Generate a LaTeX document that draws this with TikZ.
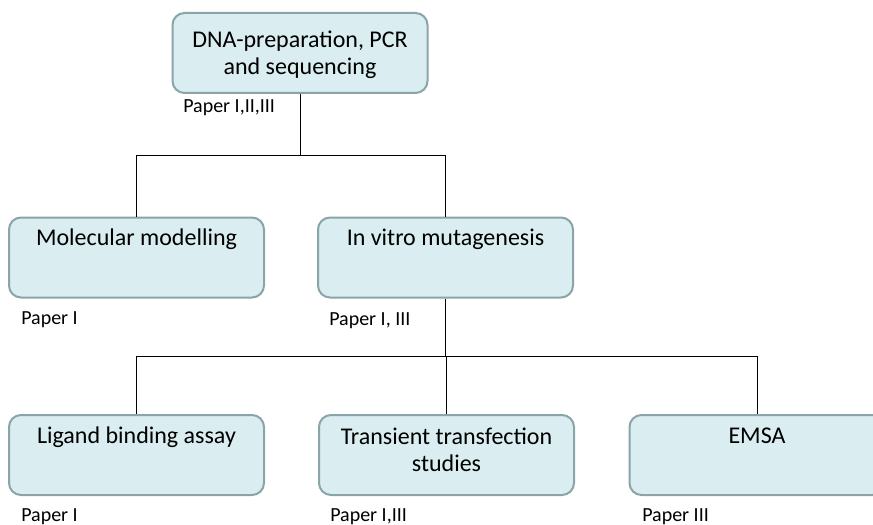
\documentclass[tikz,border=0pt]{standalone}
\usepackage{fontspec}
\setmainfont{Carlito}
\definecolor{boxfill}{RGB}{218,237,240}
\definecolor{boxline}{RGB}{138,164,168}
\begin{document}
\begin{tikzpicture}[x=0.75pt,y=-0.75pt,
  stage/.style={draw=boxline, fill=boxfill, line width=1.5pt, rounded corners=9pt,
    minimum width=191.25pt, minimum height=60pt, inner sep=0pt},
  stagetext/.style={font=\fontsize{18}{20}\selectfont, align=center, inner sep=0pt},
  paper/.style={font=\fontsize{15}{18}\selectfont, anchor=base west, inner sep=0pt},
  link/.style={draw=black, line width=0.75pt}]
\useasboundingbox (0,0) rectangle (873,524);
\clip (0,0) rectangle (873,524);

% boxes
\node[stage] (dna) at (300,53) {};
\node[stage] (mm) at (136.5,257.5) {};
\node[stage] (ivm) at (445.5,257.5) {};
\node[stage] (lig) at (136.5,455) {};
\node[stage] (tts) at (446.5,455) {};
\node[stage] (emsa) at (757,455) {};

% box texts
\node[stagetext] (dnat) at ([yshift=-1.5pt]dna.center) {DNA-preparation, PCR\\and sequencing};
\node[stagetext, anchor=base] (mmt) at ([yshift=-21.75pt]mm.north) {Molecular modelling};
\node[stagetext, anchor=base] (ivmt) at ([yshift=-21.75pt]ivm.north) {In vitro mutagenesis};
\node[stagetext, anchor=base] (ligt) at ([yshift=-21.75pt]lig.north) {Ligand binding assay};
\node[stagetext] (ttst) at ([yshift=3.75pt]tts.center) {Transient transfection\\studies};
\node[stagetext, anchor=base] (emsat) at ([yshift=-21.75pt]emsa.north) {EMSA};

% paper labels
\node[paper] (p1) at (183,113) {Paper I,II,III};
\node[paper] (p2) at (21,324) {Paper I};
\node[paper] (p3) at (329,325) {Paper I, III};
\node[paper] (p4) at (21,521) {Paper I};
\node[paper] (p5) at (330,521) {Paper I,III};
\node[paper] (p6) at (642,521) {Paper III};

% connectors
\coordinate (bus1) at (0,155);
\coordinate (bus2) at (0,356);
\draw[link] (dna.south) -- (dna.south |- bus1);
\draw[link] (mm.north) |- (ivm.north |- bus1) -- (ivm.north);
\draw[link] (ivm.south) -- (ivm.south |- bus2);
\draw[link] (lig.north) |- (emsa.north |- bus2) -- (emsa.north);
\draw[link] (tts.north) -- (tts.north |- bus2);
\end{tikzpicture}
\end{document}
